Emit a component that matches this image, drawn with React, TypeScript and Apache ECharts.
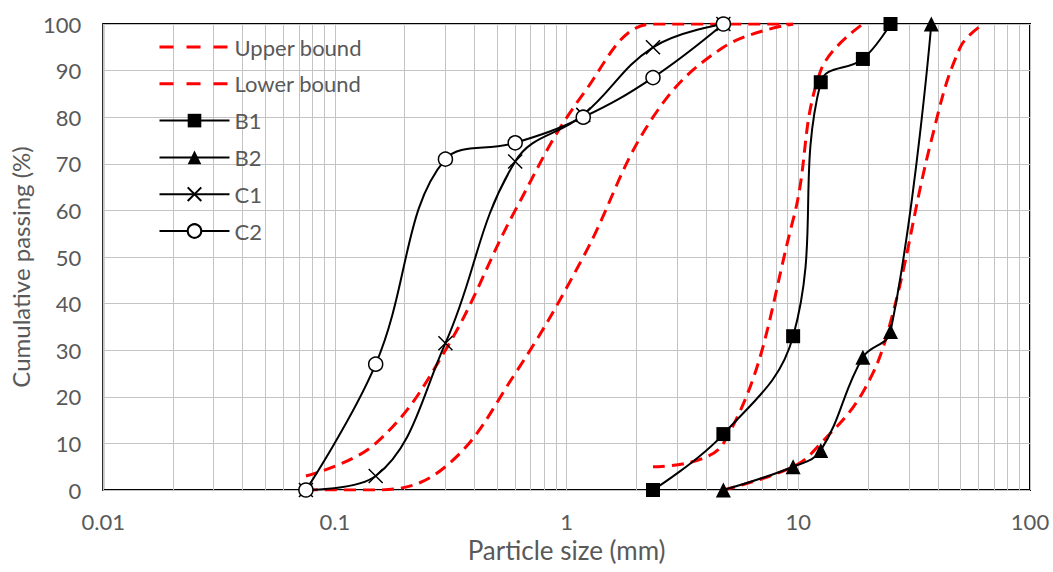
import React, { useEffect, useRef } from "react";
import * as echarts from "echarts";

// Sieve sizes (mm) and cumulative passing (%)
const sieveC = [0.075, 0.15, 0.3, 0.6, 1.18, 2.36, 4.75];
const c1 = [0, 3, 31.5, 70.5, 80.5, 95, 100];
const c2 = [0, 27, 71, 74.5, 80, 88.5, 100];

const sieveB1 = [2.36, 4.75, 9.5, 12.5, 19, 25];
const b1 = [0, 12, 33, 87.5, 92.5, 100];

const sieveB2 = [4.75, 9.5, 12.5, 19, 25, 37.5];
const b2 = [0, 5, 8.5, 28.5, 34, 100];

const sieveFineBound = [0.075, 0.15, 0.3, 0.6, 1.18, 2.36, 4.75, 9.5];
const upperFine = [3, 10, 30, 60, 85, 100, 100, 100];
const lowerFine = [0, 0, 5, 25, 50, 80, 95, 100];

const sieveUpperCoarse = [2.36, 4.75, 9.5, 12.5, 19];
const upperCoarse = [5, 10, 58, 90, 100];

const sieveLowerCoarse = [4.75, 9.5, 12.5, 19, 25, 37.5, 50, 63];
const lowerCoarse = [0, 5, 10, 21, 36, 75, 95, 100];

const xTicks = [0.01, 0.1, 1, 10, 100];
const minorGrid = [0.01, 0.1, 1, 10].flatMap((d) => [2, 3, 4, 5, 6, 7, 8, 9].map((k) => +(k * d).toPrecision(6)));

const FONT = "Lato, 'Open Sans', sans-serif";
const TEXT = "#595959";
const GRID = "#c4c4c4";

const pairs = (xs: number[], ys: number[]) => xs.map((x, i) => [x, ys[i]]);

const redStyle = { color: "#ff0000", width: 3, type: [12, 7] as any };

export default function App() {
  const ref = useRef<HTMLDivElement>(null);
  useEffect(() => {
    if (!ref.current) return;
    const chart = echarts.init(ref.current, undefined, { renderer: "svg" });
    const bound = (name: string, xs: number[], ys: number[]) => ({
      name,
      type: "line",
      data: pairs(xs, ys),
      smooth: 0.4,
      symbol: "none",
      lineStyle: redStyle,
      itemStyle: { color: "#ff0000" },
      z: 3,
    });
    const sample = (name: string, xs: number[], ys: number[], symbol: string, size: number, fill: string, bw: number) => ({
      name,
      type: "line",
      data: pairs(xs, ys),
      smooth: 0.4,
      symbol,
      symbolSize: size,
      showAllSymbol: true,
      lineStyle: { color: "#000", width: 2 },
      itemStyle: { color: fill, borderColor: "#000", borderWidth: bw },
      z: 4,
    });
    const hiddenSym = { color: "rgba(0,0,0,0)", borderColor: "rgba(0,0,0,0)", borderWidth: 0 };
    chart.setOption({
      animation: false,
      textStyle: { fontFamily: FONT },
      grid: { left: 103, right: 23, top: 24, bottom: 82, show: true, borderColor: "#000", borderWidth: 2, containLabel: false },
      legend: {
        orient: "vertical",
        left: 153,
        top: 30,
        itemWidth: 70,
        itemHeight: 17,
        itemGap: 12.8,
        data: [
          { name: "Upper bound", itemStyle: hiddenSym, lineStyle: { type: [14, 13], width: 3 } },
          { name: "Lower bound", itemStyle: hiddenSym, lineStyle: { type: [14, 13], width: 3 } },
          "B1",
          "B2",
          "C1",
          "C2",
        ],
        textStyle: { color: TEXT, fontSize: 22, fontFamily: FONT, lineHeight: 24 },
      },
      xAxis: {
        type: "log",
        logBase: 10,
        min: xTicks[0],
        max: xTicks[xTicks.length - 1],
        name: "Particle size (mm)",
        nameLocation: "middle",
        nameGap: 47,
        nameTextStyle: { color: TEXT, fontSize: 26, fontFamily: FONT },
        axisLine: { show: false },
        axisTick: { show: false },
        axisLabel: {
          color: TEXT,
          fontSize: 22,
          fontFamily: FONT,
          margin: 20,
          formatter: (v: number) => String(Number(v.toPrecision(6))),
        },
        splitLine: { show: true, lineStyle: { color: GRID, width: 1 } },
      },
      yAxis: {
        type: "value",
        min: 0,
        max: 100,
        interval: 10,
        name: "Cumulative passing (%)",
        nameLocation: "middle",
        nameGap: 68,
        nameTextStyle: { color: TEXT, fontSize: 24, fontFamily: FONT, padding: [0, 20, 0, 0] },
        axisLine: { show: false },
        axisTick: { show: false },
        axisLabel: { color: TEXT, fontSize: 22, fontFamily: FONT, margin: 22 },
        splitLine: { show: true, lineStyle: { color: GRID, width: 1 } },
      },
      series: [
        {
          name: "minor",
          type: "line",
          data: [],
          silent: true,
          z: 1,
          markLine: {
            silent: true,
            symbol: ["none", "none"],
            z: 1,
            label: { show: false },
            lineStyle: { color: GRID, width: 1, type: "solid" },
            data: minorGrid.map((v) => ({ xAxis: v })),
          },
        },
        bound("Upper bound", sieveFineBound, upperFine),
        bound("Lower bound", sieveFineBound, lowerFine),
        bound("Upper bound", sieveUpperCoarse, upperCoarse),
        bound("Lower bound", sieveLowerCoarse, lowerCoarse),
        sample("B1", sieveB1, b1, "rect", 14, "#000", 0),
        sample("B2", sieveB2, b2, "triangle", 15, "#000", 0),
        sample("C1", sieveC, c1, "path://M0,0L10,10M10,0L0,10", 14, "#000", 1.5),
        sample("C2", sieveC, c2, "circle", 14, "#fff", 1.5),
      ],
    });
    return () => chart.dispose();
  }, []);
  return <div ref={ref} style={{ width: 1053, height: 572, position: "absolute", left: 0, top: 0 }} />;
}
